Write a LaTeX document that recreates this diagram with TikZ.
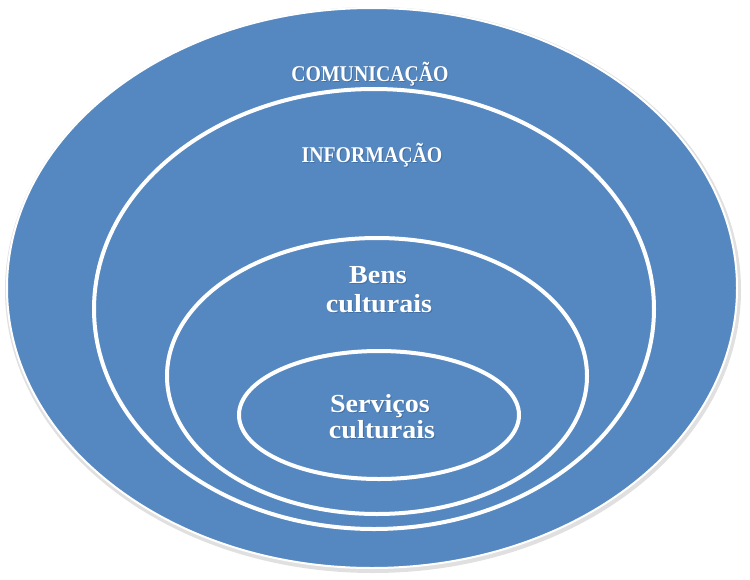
\documentclass[tikz,border=0pt]{standalone}
\usepackage{fontspec}
\setmainfont{Liberation Serif}
\definecolor{ringblue}{HTML}{5588C1}
\definecolor{shadowblue}{HTML}{2E4E75}
\begin{document}
\begin{tikzpicture}[x=1pt,y=-1pt,
  ring/.style={fill=ringblue,draw=white,line width=4pt},
  capsfont/.style={font=\bfseries\fontsize{22.5}{27}\selectfont\addfontfeature{FakeStretch=0.88}},
  lowfont/.style={font=\bfseries\fontsize{26}{30}\selectfont\addfontfeature{FakeStretch=1.08}},
  lbl/.style={text=white,inner sep=0pt,anchor=base},
  shd/.style={text=shadowblue,opacity=0.4,inner sep=0pt,anchor=base}]
\useasboundingbox (0,0) rectangle (750,579);
% outer soft shadow
\fill[black!12] (373,290) ellipse [x radius=368, y radius=283];
\draw[ring,line width=2pt] (372,288) ellipse [x radius=365, y radius=280];
\draw[ring] (374,309) ellipse [x radius=280, y radius=220];
\draw[ring] (377,376) ellipse [x radius=210, y radius=138];
\draw[ring] (379,415) ellipse [x radius=140, y radius=64];
% text shadows
\node[shd,capsfont] (coms) at (371,82.5) {COMUNICAÇÃO};
\node[shd,capsfont] (infs) at (373,163) {INFORMAÇÃO};
\node[shd,lowfont] (bens1s) at (379,284) {Bens};
\node[shd,lowfont] (bens2s) at (380,313) {culturais};
\node[shd,lowfont] (serv1s) at (381,413) {Serviços};
\node[shd,lowfont] (serv2s) at (383,439) {culturais};
% labels
\node[lbl,capsfont] (com) at (370,81.5) {COMUNICAÇÃO};
\node[lbl,capsfont] (inf) at (372,162) {INFORMAÇÃO};
\node[lbl,lowfont] (bens1) at (378,283) {Bens};
\node[lbl,lowfont] (bens2) at (379,312) {culturais};
\node[lbl,lowfont] (serv1) at (380,412) {Serviços};
\node[lbl,lowfont] (serv2) at (382,438) {culturais};
\end{tikzpicture}
\end{document}
